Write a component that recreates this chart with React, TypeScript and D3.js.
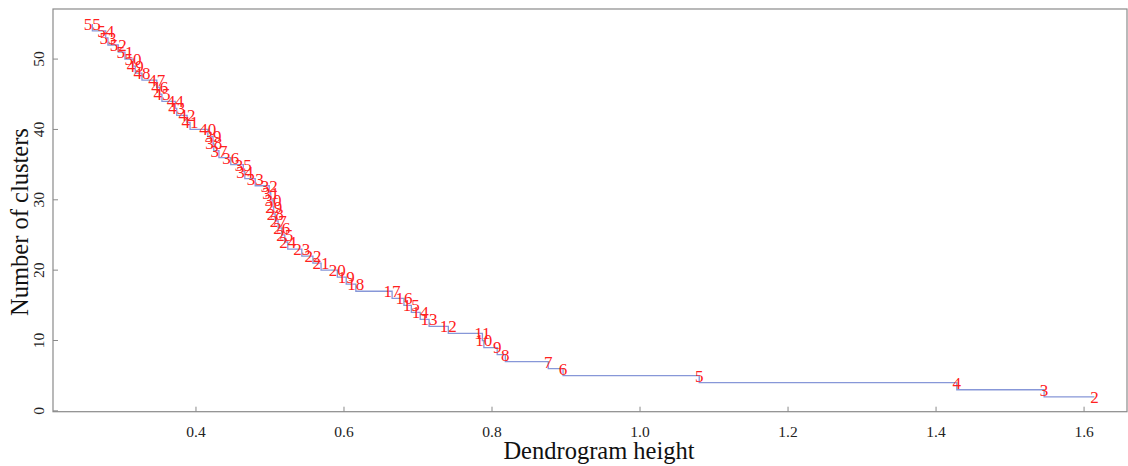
import React from "react";
import * as d3 from "d3";

const clusters = [55,54,53,52,51,50,49,48,47,46,45,44,43,42,41,40,39,38,37,36,35,34,33,32,31,30,29,28,27,26,25,24,23,22,21,20,19,18,17,16,15,14,13,12,11,10,9,8,7,6,5,4,3,2];
const heights = [0.260,0.278,0.281,0.295,0.304,0.315,0.318,0.327,0.347,0.351,0.354,0.372,0.374,0.388,0.392,0.416,0.423,0.424,0.431,0.447,0.464,0.466,0.480,0.499,0.501,0.504,0.505,0.507,0.511,0.516,0.520,0.524,0.543,0.558,0.569,0.591,0.603,0.616,0.665,0.681,0.691,0.703,0.715,0.741,0.787,0.789,0.807,0.818,0.876,0.896,1.080,1.428,1.546,1.614];
const xTicks = [0.4, 0.6, 0.8, 1.0, 1.2, 1.4, 1.6];
const yTicks = [0, 10, 20, 30, 40, 50];

const W = 1128, H = 466;
const L = 53, R = 1127, T = 9, B = 411.7;
const FONT = "'Liberation Serif', 'Times New Roman', serif";

export default function App() {
  const x = d3.scaleLinear().domain([0.2068, 1.658]).range([L, R]);
  const y = d3.scaleLinear().domain([-0.12, 57.12]).range([B, T]);
  const pts = clusters.map((k, i) => ({ k, h: heights[i] }));
  const line = d3.line<{ k: number; h: number }>()
    .x(d => x(d.h))
    .y(d => y(d.k))
    .curve(d3.curveStepBefore);
  const axisCol = "#8a8a8a";
  return (
    <svg width={W} height={H} style={{ position: "absolute", left: 0, top: 0, display: "block", background: "#fff" }}>
      <rect x={L} y={T} width={R - L} height={B - T} fill="none" stroke={axisCol} strokeWidth={1.2} />
      {xTicks.map(t => (
        <g key={"x" + t}>
          <line x1={x(t)} x2={x(t)} y1={B} y2={B - 5} stroke={axisCol} strokeWidth={1} />
          <text x={x(t)} y={437} textAnchor="middle" fontFamily={FONT} fontSize={15.5} fill="#222">{t.toFixed(1)}</text>
        </g>
      ))}
      {yTicks.map(t => (
        <g key={"y" + t}>
          <line x1={L} x2={L + 5} y1={y(t)} y2={y(t)} stroke={axisCol} strokeWidth={1} />
          <text transform={`translate(${44},${y(t)}) rotate(-90)`} textAnchor="middle" fontFamily={FONT} fontSize={15.5} fill="#222">{t}</text>
        </g>
      ))}
      <path d={line(pts) || ""} fill="none" stroke="#8797d8" strokeWidth={1.3} />
      {pts.map(p => (
        <text key={"l" + p.k} x={x(p.h)} y={y(p.k)} dy="0.35em" textAnchor="middle" fontFamily={FONT} fontSize={17} fill="#ff2020">{p.k}</text>
      ))}
      <text x={599} y={459} textAnchor="middle" fontFamily={FONT} fontSize={24.5} fill="#111">Dendrogram height</text>
      <text transform={`translate(${28},${222}) rotate(-90)`} textAnchor="middle" fontFamily={FONT} fontSize={24.5} fill="#111">Number of clusters</text>
    </svg>
  );
}
